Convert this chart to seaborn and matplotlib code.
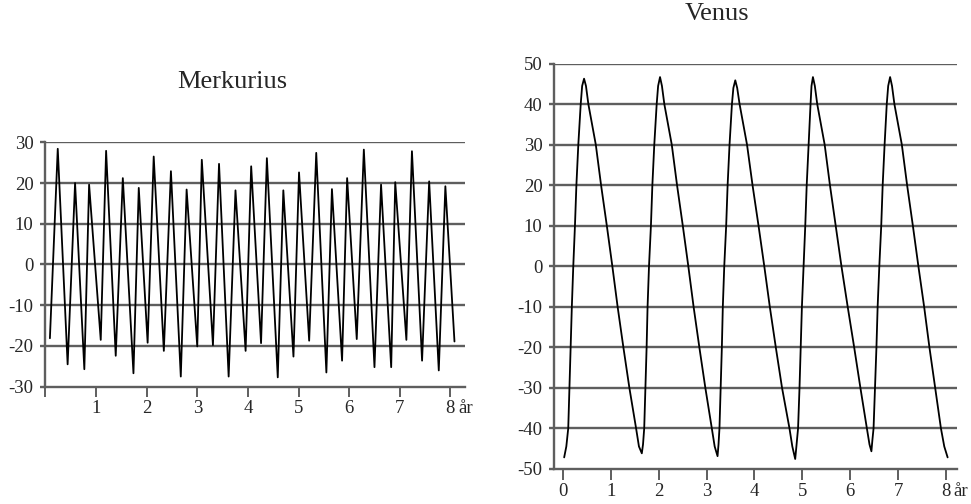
import matplotlib
matplotlib.use("Agg")
import matplotlib.pyplot as plt
import seaborn as sns
import pandas as pd

# Mercury: elongation (degrees) at extremes
merc_t = [0.09, 0.245, 0.44, 0.587, 0.77, 0.864, 1.094, 1.20, 1.39, 1.53,
          1.74, 1.845, 2.02, 2.14, 2.34, 2.48, 2.675, 2.79, 3.0, 3.09,
          3.31, 3.43, 3.62, 3.755, 3.955, 4.065, 4.26, 4.375, 4.59, 4.70,
          4.90, 5.01, 5.21, 5.35, 5.55, 5.66, 5.86, 5.96, 6.15, 6.29,
          6.50, 6.63, 6.83, 6.91, 7.13, 7.24, 7.44, 7.58, 7.77, 7.90, 8.08]
merc_v = [-18.1, 28.4, -24.5, 20.0, -25.7, 19.6, -18.5, 27.9, -22.4, 21.2,
          -26.7, 18.8, -19.2, 26.5, -21.2, 22.9, -27.5, 18.4, -20.1, 25.7,
          -19.8, 24.7, -27.5, 18.2, -21.2, 24.1, -19.3, 26.1, -27.7, 18.2,
          -22.6, 22.6, -18.7, 27.4, -26.5, 18.5, -23.6, 21.2, -18.3, 28.2,
          -25.2, 19.6, -25.2, 20.2, -18.5, 27.8, -23.6, 20.4, -26.0, 19.2, -18.9]

# Venus: elongation (degrees)
venus_t = [0.03, 0.075, 0.115, 0.14, 0.165, 0.19, 0.22, 0.255, 0.285, 0.325, 0.375, 0.405, 0.445,
           0.485, 0.535, 0.69, 0.80, 0.92, 1.035, 1.145, 1.265, 1.39, 1.53, 1.59, 1.65,
           1.675, 1.70, 1.725, 1.75, 1.77, 1.80, 1.84, 1.87, 1.91, 1.96, 1.99, 2.03,
           2.07, 2.12, 2.275, 2.385, 2.505, 2.62, 2.73, 2.85, 2.975, 3.11, 3.17, 3.23,
           3.25, 3.27, 3.295, 3.32, 3.34, 3.37, 3.41, 3.44, 3.48, 3.53, 3.56, 3.60,
           3.64, 3.69, 3.845, 3.96, 4.085, 4.205, 4.32, 4.445, 4.575, 4.73, 4.79, 4.85,
           4.875, 4.91, 4.94, 4.965, 4.99, 5.025, 5.06, 5.09, 5.13, 5.17, 5.19, 5.22,
           5.26, 5.31, 5.465, 5.575, 5.695, 5.815, 5.945, 6.08, 6.21, 6.345, 6.40, 6.44,
           6.46, 6.485, 6.515, 6.545, 6.57, 6.605, 6.645, 6.675, 6.715, 6.76, 6.79, 6.83,
           6.87, 6.92, 7.075, 7.185, 7.305, 7.42, 7.54, 7.65, 7.77, 7.89, 7.96, 8.03]
venus_v = [-47.2, -44.5, -40, -30, -20, -10, 0, 10, 20, 30, 40, 44.5, 46.3,
           44.5, 40, 30, 20, 10, 0, -10, -20, -30, -40, -44.5, -46.2,
           -44, -40, -30, -20, -10, 0, 10, 20, 30, 40, 44.5, 46.7,
           44.5, 40, 30, 20, 10, 0, -10, -20, -30, -40, -44.5, -46.9,
           -44, -40, -30, -20, -10, 0, 10, 20, 30, 40, 44, 45.9,
           44, 40, 30, 20, 10, 0, -10, -20, -30, -40, -44.5, -47.6,
           -44.5, -40, -30, -20, -10, 0, 10, 20, 30, 40, 44.5, 46.7,
           44.5, 40, 30, 20, 10, 0, -10, -20, -30, -40, -44, -45.7,
           -43, -40, -30, -20, -10, 0, 10, 20, 30, 40, 44.5, 46.7,
           44.5, 40, 30, 20, 10, 0, -10, -20, -30, -40, -44.5, -47.2]

merc_yticks = [-30, -20, -10, 0, 10, 20, 30]
venus_yticks = [-50, -40, -30, -20, -10, 0, 10, 20, 30, 40, 50]
year_ticks = [0, 1, 2, 3, 4, 5, 6, 7, 8]

sns.set_style("white")
plt.rcParams["font.family"] = ["Liberation Serif", "DejaVu Serif"]
plt.rcParams["axes.unicode_minus"] = False

GRID = "#5e5e5e"
LABEL_SIZE = 13.5

fig = plt.figure(figsize=(9.71, 5.04), dpi=100)
ax_m = fig.add_axes([0.0467, 0.2327, 0.4323, 0.4850])
ax_v = fig.add_axes([0.5709, 0.0700, 0.4144, 0.8036])


def style_axis(ax, yticks, xlim, tick_len):
    ax.set_xlim(*xlim)
    ax.set_ylim(yticks[0], yticks[-1])
    ax.set_yticks(yticks)
    ax.set_yticklabels([str(v) for v in yticks])
    for y in yticks[1:]:
        ax.axhline(y, color=GRID, lw=1.7, zorder=0)
    for side in ["top", "right"]:
        ax.spines[side].set_visible(False)
    for side in ["left", "bottom"]:
        ax.spines[side].set_color(GRID)
        ax.spines[side].set_linewidth(1.7)
    ax.tick_params(axis="y", length=3.6, width=1.7, color=GRID, pad=5,
                   labelsize=LABEL_SIZE, left=True)
    ax.tick_params(axis="x", length=tick_len, width=1.4, color=GRID, pad=2.5,
                   labelsize=LABEL_SIZE, bottom=True)
    ax.set_xlabel("")
    ax.set_ylabel("")


merc = pd.DataFrame({"t": merc_t, "v": merc_v})
venus = pd.DataFrame({"t": venus_t, "v": venus_v})

sns.lineplot(data=merc, x="t", y="v", ax=ax_m, color="black", lw=1.3,
             estimator=None)
sns.lineplot(data=venus, x="t", y="v", ax=ax_v, color="black", lw=1.3,
             estimator=None)

style_axis(ax_m, merc_yticks, (0, 8.29), 7.2)
ax_m.set_xticks(year_ticks)
ax_m.set_xticklabels([""] + [str(v) for v in year_ticks[1:]])

style_axis(ax_v, venus_yticks, (-0.175, 8.22), 8)
ax_v.set_xticks(year_ticks)
ax_v.set_xticklabels([str(v) for v in year_ticks])

for ax, dy in [(ax_m, -9.7), (ax_v, -10.5)]:
    ax.annotate("år", xy=(8, 0), xycoords=("data", "axes fraction"),
                xytext=(5.5, dy), textcoords="offset points",
                ha="left", va="top", fontsize=LABEL_SIZE)

fig.text(0.239, 0.837, "Merkurius", ha="center", va="center", fontsize=19)
fig.text(0.738, 0.972, "Venus", ha="center", va="center", fontsize=19)

fig.savefig("out.png", dpi=100)
